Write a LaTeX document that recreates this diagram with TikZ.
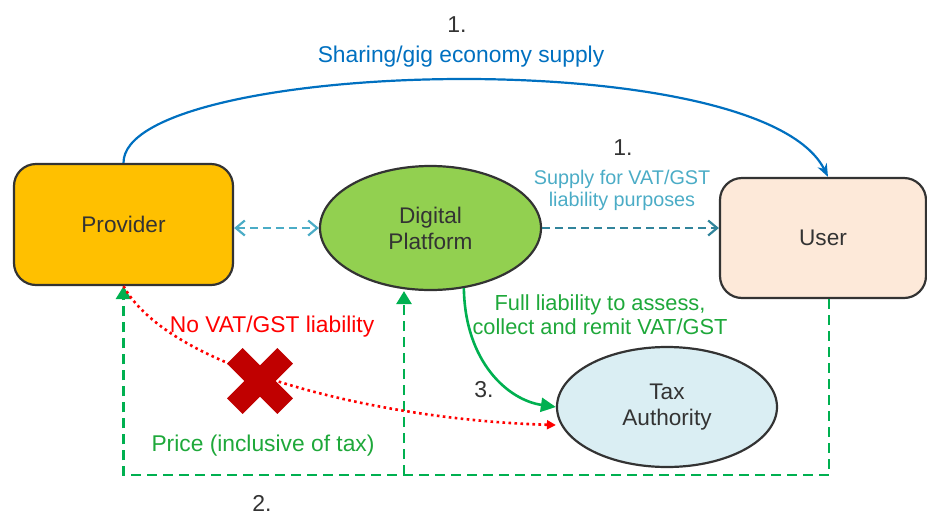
\documentclass[tikz,border=0pt]{standalone}
\usepackage{fontspec}
\setmainfont{Liberation Sans}
\usetikzlibrary{arrows.meta,shapes.geometric}

\definecolor{inkdark}{HTML}{333333}
\definecolor{provfill}{HTML}{FFC000}
\definecolor{platfill}{HTML}{92D050}
\definecolor{userfill}{HTML}{FDE9D9}
\definecolor{taxfill}{HTML}{DAEEF3}
\definecolor{supplyblue}{HTML}{0070C0}
\definecolor{lightteal}{HTML}{4BACC6}
\definecolor{darkteal}{HTML}{31849B}
\definecolor{flowgreen}{HTML}{00B050}
\definecolor{labelgreen}{HTML}{1EA83A}
\definecolor{crossred}{HTML}{C00000}

\tikzset{
  chev/.tip={Straight Barb[length=9pt,width=15pt,line width=2.2pt]},
  base/.style={draw=inkdark, line width=2.2pt, text=inkdark,
    font=\fontsize{22.6pt}{26pt}\selectfont, align=center, inner sep=0pt},
  roundbox/.style={base, rectangle, rounded corners=22pt},
  ovalbox/.style={base, ellipse},
  lbl/.style={font=\fontsize{22.8pt}{25pt}\selectfont, align=center, inner sep=0pt},
  numlbl/.style={font=\fontsize{23pt}{26pt}\selectfont, text=inkdark, inner sep=0pt},
  gigflow/.style={draw=supplyblue, line width=2.2pt,
    -{Stealth[length=13pt,width=10pt,inset=4pt]}},
  linkflow/.style={line width=2.4pt, dash pattern=on 8pt off 5pt},
  payflow/.style={draw=flowgreen, line width=2.8pt, dash pattern=on 10pt off 6pt,
    -{Triangle[length=13pt,width=15pt]}},
  dutyflow/.style={draw=flowgreen, line width=2.6pt,
    -{Triangle[length=15pt,width=14pt]}},
  noflow/.style={draw=red, line width=2.6pt, dash pattern=on 2.6pt off 3.4pt,
    -{Triangle[length=9pt,width=9pt]}}
}

\begin{document}
\begin{tikzpicture}[x=1pt,y=-1pt]
  \useasboundingbox (0,0) rectangle (927,515);

  % parties
  \node[roundbox, fill=provfill, minimum width=219pt, minimum height=121pt]
    (prov) at (123.5,224.5) {Provider};
  \node[ovalbox, fill=platfill, minimum width=221pt, minimum height=124pt]
    (plat) at (430.5,228) {Digital\\Platform};
  \node[roundbox, fill=userfill, minimum width=206pt, minimum height=120pt]
    (user) at (823,238) {User};
  \node[ovalbox, fill=taxfill, minimum width=220pt, minimum height=120pt]
    (tax) at (667,407) {Tax\\Authority};

  % 1. sharing / gig economy supply
  \draw[gigflow] (prov.north) .. controls (123,60) and (760,40) .. ([xshift=5pt]user.north);
  \node[numlbl] (n1a) at (457,25) {1.};
  \node[lbl, text=supplyblue] (gig) at (461,57) {Sharing/gig economy supply};

  % provider <-> platform link
  \draw[linkflow, draw=lightteal, chev-chev] (prov.east |- plat.west) -- (plat.west);

  % 1. supply for VAT/GST liability purposes
  \draw[linkflow, draw=darkteal, -chev] (plat.east) -- (user.west |- plat.east);
  \node[numlbl] (n1b) at (623,148) {1.};
  \node[lbl, text=lightteal, font=\fontsize{19.8pt}{22pt}\selectfont] (vat) at (622,190)
    {Supply for VAT/GST\\liability purposes};

  % 3. platform liability
  \draw[dutyflow] (plat.-61) .. controls (465,362) and (508,400) .. (tax.west);
  \node[lbl, text=labelgreen, font=\fontsize{21.8pt}{24pt}\selectfont] (duty) at (600,315)
    {Full liability to assess,\\collect and remit VAT/GST};
  \node[numlbl] (n3) at (484,390) {3.};

  % 2. price paid by the user
  \coordinate (corner) at (0,475);
  \coordinate (join) at (404,475);
  \draw[payflow] ([xshift=6pt]user.south) |- (prov.south |- corner) -- (prov.south);
  \draw[payflow] (join) -- (join |- plat.south);
  \node[lbl, text=labelgreen] (price) at (263,446) {Price (inclusive of tax)};
  \node[numlbl] (n2) at (262,503) {2.};

  % no liability for the provider
  \draw[noflow] (prov.south) .. controls (170,370) and (380,420) .. ([yshift=-18pt]tax.west);
  \node[lbl, text=red] (nolia) at (272,327) {No VAT/GST liability};
  \draw[crossred, line width=22pt] (234.8,355.8) -- (285.2,406.2);
  \draw[crossred, line width=22pt] (234.8,406.2) -- (285.2,355.8);
\end{tikzpicture}
\end{document}
